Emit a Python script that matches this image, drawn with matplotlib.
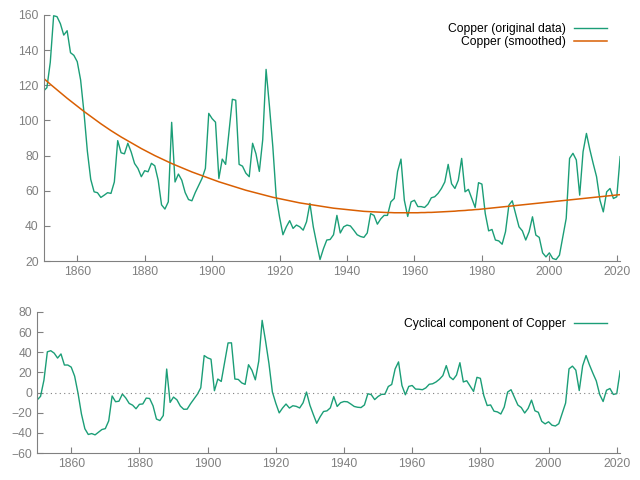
import numpy as np
import matplotlib
matplotlib.use("Agg")
import matplotlib.pyplot as plt

plt.rcParams['font.family'] = ['Liberation Sans', 'DejaVu Sans']

years = np.arange(1850, 2022)

# copper price, original data
copper = [
    116.7, 118.6, 133.0, 159.5, 159.0, 155.0, 148.5, 151.0, 138.5, 137.0,
    133.4, 123.0, 104.5, 82.5, 66.5, 59.4, 58.9, 56.2, 57.5, 58.9,
    58.5, 65.0, 88.5, 81.6, 81.0, 87.0, 82.0, 75.5, 72.7, 68.0,
    71.4, 70.8, 75.6, 74.2, 66.0, 52.0, 49.6, 53.7, 98.9, 65.0,
    69.5, 66.0, 59.0, 55.0, 54.3, 59.0, 63.0, 67.0, 72.7, 104.0,
    101.0, 99.0, 67.0, 78.0, 75.0, 93.5, 112.0, 111.5, 75.0, 74.0,
    70.0, 68.0, 87.0, 81.0, 71.0, 89.0, 129.0, 108.0, 85.0, 56.6,
    45.0, 35.0, 39.5, 43.0, 38.6, 40.5, 39.5, 37.6, 42.4, 52.8,
    39.5, 30.0, 20.9, 27.0, 32.0, 32.3, 35.0, 46.0, 36.0, 39.5,
    40.5, 40.0, 37.6, 35.0, 34.0, 33.5, 36.0, 47.0, 46.0, 41.0,
    44.0, 46.0, 46.0, 53.7, 55.6, 71.0, 78.0, 54.6, 45.4, 53.7,
    54.6, 51.0, 51.0, 50.5, 52.4, 56.0, 56.6, 58.5, 61.3, 65.0,
    75.0, 64.0, 61.3, 66.0, 78.4, 59.4, 60.8, 55.6, 50.5, 64.6,
    63.8, 47.0, 37.2, 38.0, 32.0, 31.5, 29.6, 36.7, 51.8, 54.3,
    47.0, 39.5, 37.2, 32.0, 36.7, 45.2, 34.8, 33.5, 24.7, 22.4,
    24.7, 21.5, 20.9, 23.4, 33.8, 44.3, 78.4, 81.3, 77.5, 57.5,
    82.2, 92.6, 83.5, 75.5, 68.0, 54.7, 48.0, 59.4, 61.3, 55.6,
    56.6, 79.4,
]

# smoothed (trend) curve
smoothed = [
    124.0, 122.3, 120.6, 119.0, 117.4, 115.8, 114.2, 112.6, 111.1, 109.6,
    108.1, 106.6, 105.1, 103.7, 102.3, 100.9, 99.5, 98.1, 96.8, 95.5,
    94.2, 93.0, 91.8, 90.6, 89.5, 88.4, 87.3, 86.2, 85.1, 84.0,
    83.0, 82.0, 81.0, 80.0, 79.1, 78.2, 77.3, 76.4, 75.5, 74.7,
    73.9, 73.1, 72.3, 71.5, 70.7, 70.0, 69.3, 68.6, 67.9, 67.2,
    66.5, 65.8, 65.1, 64.5, 63.9, 63.3, 62.7, 62.1, 61.5, 60.9,
    60.3, 59.8, 59.3, 58.8, 58.3, 57.8, 57.3, 56.8, 56.3, 55.9,
    55.5, 55.1, 54.7, 54.3, 53.9, 53.5, 53.1, 52.8, 52.5, 52.2,
    51.9, 51.6, 51.3, 51.0, 50.7, 50.4, 50.1, 49.9, 49.7, 49.5,
    49.3, 49.1, 48.9, 48.7, 48.5, 48.3, 48.2, 48.1, 48.0, 47.9,
    47.8, 47.7, 47.6, 47.6, 47.5, 47.5, 47.5, 47.5, 47.5, 47.5,
    47.5, 47.5, 47.6, 47.6, 47.7, 47.7, 47.8, 47.9, 48.0, 48.1,
    48.2, 48.3, 48.4, 48.6, 48.7, 48.8, 49.0, 49.1, 49.3, 49.4,
    49.6, 49.8, 50.0, 50.2, 50.4, 50.6, 50.8, 51.0, 51.2, 51.4,
    51.6, 51.8, 52.0, 52.2, 52.4, 52.6, 52.8, 53.0, 53.2, 53.4,
    53.6, 53.8, 54.0, 54.2, 54.4, 54.6, 54.8, 55.0, 55.2, 55.4,
    55.6, 55.8, 56.0, 56.2, 56.4, 56.6, 56.8, 57.0, 57.2, 57.4,
    57.6, 57.8,
]

copper = np.array(copper)
smoothed = np.array(smoothed)
cycle = copper - smoothed

green = "#1b9e77"
orange = "#d95f02"
gray = "#808080"


def style(ax):
    for s in ["top", "right"]:
        ax.spines[s].set_visible(False)
    for s in ["left", "bottom"]:
        ax.spines[s].set_color(gray)
    ax.tick_params(direction="in", colors=gray, labelsize=8.7, length=4)
    ax.set_xlim(1850, 2021)
    ax.set_xticks(np.arange(1860, 2021, 20))


fig = plt.figure(figsize=(6.4, 4.8), dpi=100)

ax1 = fig.add_axes([0.068, 0.456, 0.901, 0.513])
ax1.plot(years, copper, color=green, lw=1, label="Copper (original data)")
ax1.plot(years, smoothed, color=orange, lw=1.1, label="Copper (smoothed)")
style(ax1)
ax1.set_ylim(20, 160)
ax1.set_yticks(np.arange(20, 161, 20))
ax1.legend(loc="upper right", bbox_to_anchor=(0.977, 0.965), frameon=False,
           markerfirst=False, fontsize=8.7, handlelength=2.7,
           labelspacing=0.05, borderpad=0, borderaxespad=0, handletextpad=0.7)

ax2 = fig.add_axes([0.058, 0.056, 0.911, 0.294])
ax2.plot(years, cycle, color=green, lw=1, label="Cyclical component of Copper")
ax2.axhline(0, color=gray, lw=0.8, ls=(0, (1, 3)))
style(ax2)
ax2.set_ylim(-60, 80)
ax2.set_yticks(np.arange(-60, 81, 20))
ax2.legend(loc="upper right", bbox_to_anchor=(0.977, 0.955), frameon=False,
           markerfirst=False, fontsize=8.7, handlelength=2.7,
           borderpad=0, borderaxespad=0, handletextpad=0.7)

fig.savefig("out.png", dpi=100)
